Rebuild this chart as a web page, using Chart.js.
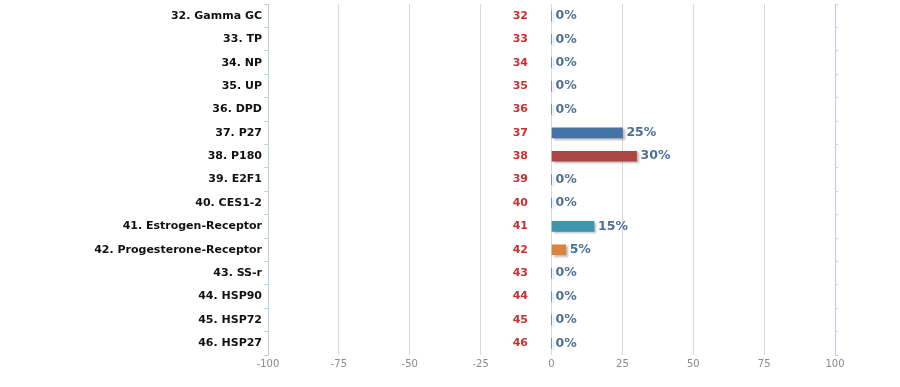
<!DOCTYPE html>
<html>
<head>
<meta charset="utf-8">
<script src="https://cdn.jsdelivr.net/npm/chart.js@4/dist/chart.umd.min.js"></script>
<style>
  html, body { margin: 0; padding: 0; background: #fff; }
  #wrap { width: 900px; height: 387px; }
</style>
</head>
<body>
<div id="wrap"><canvas id="markerChart"></canvas></div>
<script>
// marker list shown in this part of the chart
const ids = [32, 33, 34, 35, 36, 37, 38, 39, 40, 41, 42, 43, 44, 45, 46];
const names = ['Gamma GC', 'TP', 'NP', 'UP', 'DPD', 'P27', 'P180', 'E2F1', 'CES1-2',
               'Estrogen-Receptor', 'Progesterone-Receptor', 'SS-r', 'HSP90', 'HSP72', 'HSP27'];
const percents = [0, 0, 0, 0, 0, 25, 30, 0, 0, 15, 5, 0, 0, 0, 0];
const barColors = ['#4572A7', '#4572A7', '#4572A7', '#4572A7', '#4572A7', '#4572A7', '#AA4643',
                   '#4572A7', '#4572A7', '#3D96AE', '#DB843D', '#4572A7', '#4572A7', '#4572A7', '#4572A7'];
const xTicks = [-100, -75, -50, -25, 0, 25, 50, 75, 100];
const idPosition = -11; // where the red number column sits on the x scale

const labels = ids.map((id, i) => id + '. ' + names[i]);

// shadow under bars, plus the red ids and the % labels
const extras = {
    id: 'extras',
    beforeDatasetsDraw(chart) {
        const ctx = chart.ctx;
        ctx.save();
        ctx.shadowColor = 'rgba(0,0,0,0.28)';
        ctx.shadowOffsetX = 2;
        ctx.shadowOffsetY = 1.5;
        ctx.shadowBlur = 2;
    },
    afterDatasetsDraw(chart) {
        const ctx = chart.ctx;
        ctx.restore();
        const xs = chart.scales.x;
        const meta = chart.getDatasetMeta(0);
        ctx.save();
        ctx.textBaseline = 'middle';
        meta.data.forEach((bar, i) => {
            ctx.font = 'bold 11px "DejaVu Sans"';
            ctx.fillStyle = '#c8302f';
            ctx.textAlign = 'center';
            ctx.fillText(String(ids[i]), xs.getPixelForValue(idPosition), bar.y);

            ctx.font = 'bold 12.5px "DejaVu Sans"';
            ctx.fillStyle = '#4d6f94';
            ctx.textAlign = 'left';
            ctx.fillText(percents[i] + '%', bar.x + 4, bar.y);
        });
        ctx.restore();
    }
};

const ctx = document.getElementById('markerChart').getContext('2d');
const chart = new Chart(ctx, {
    type: 'bar',
    data: {
        labels: labels,
        datasets: [{
            data: percents,
            backgroundColor: barColors,
            borderWidth: 0,
            barThickness: 10,
            base: 0
        }]
    },
    options: {
        indexAxis: 'y',
        responsive: true,
        maintainAspectRatio: false,
        animation: false,
        layout: { padding: { top: 3, right: 62, bottom: 0, left: 0 } },
        plugins: { legend: { display: false }, tooltip: { enabled: false } },
        scales: {
            x: {
                type: 'linear',
                min: -100,
                max: 100,
                afterBuildTicks: (scale) => { scale.ticks = xTicks.map(v => ({ value: v })); },
                grid: { color: '#d8d8d8', tickLength: 0 },
                border: { display: false },
                ticks: { color: '#8a8a8a', font: { family: 'DejaVu Sans', size: 10 }, padding: 3 },
                afterFit: (scale) => { scale.height = 32; }
            },
            y: {
                grid: { drawOnChartArea: false, tickLength: 4, color: '#c0d0e0', offset: true },
                border: { color: '#c0d0e0' },
                ticks: { color: '#111', font: { family: 'DejaVu Sans', size: 11, weight: 'bold', lineHeight: 0.4 }, padding: 2 },
                afterFit: (scale) => { scale.width = 268; }
            },
            y2: {
                position: 'right',
                type: 'category',
                labels: labels,
                grid: { drawOnChartArea: false, tickLength: 3, color: '#c0d0e0', offset: true },
                border: { color: '#c0d0e0' },
                ticks: { display: false },
                afterFit: (scale) => { scale.width = 3; }
            }
        }
    },
    plugins: [extras]
});
</script>
</body>
</html>
